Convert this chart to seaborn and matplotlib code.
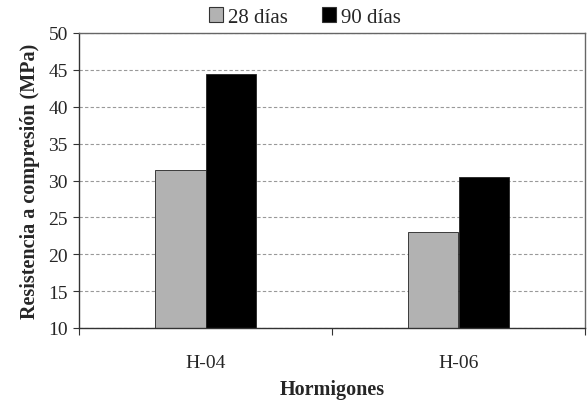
import matplotlib
matplotlib.use("Agg")
import matplotlib.pyplot as plt
import seaborn as sns
import pandas as pd
from matplotlib.patches import Patch

categories = ["H-04", "H-06"]
series_names = ["28 días", "90 días"]
vals_28 = [31.4, 23.0]
vals_90 = [44.4, 30.5]
yticks = [10, 15, 20, 25, 30, 35, 40, 45, 50]

rows = []
for c, a, b in zip(categories, vals_28, vals_90):
    rows.append({"Hormigon": c, "Edad": series_names[0], "MPa": a})
    rows.append({"Hormigon": c, "Edad": series_names[1], "MPa": b})
df = pd.DataFrame(rows)

sns.set_style("white")
plt.rcParams["font.family"] = ["Liberation Serif", "DejaVu Serif"]

colors = ["#b2b2b2", "#000000"]
fig = plt.figure(figsize=(5.87, 4.02), dpi=100)
ax = fig.add_axes([79/587, 1-329/402, (585-79)/587, (329-34)/402])

sns.barplot(data=df, x="Hormigon", y="MPa", hue="Edad", palette=colors,
            width=0.4, gap=0, edgecolor="#222222", linewidth=0.6,
            ax=ax, legend=False, saturation=1)

ax.set_ylim(10, 50)
ax.set_yticks(yticks)
ax.set_xlim(-0.5, 1.5)
ax.yaxis.grid(True, linestyle=(0, (3, 2)), color="#999999", linewidth=0.8)
ax.set_axisbelow(True)
for s in ["left", "bottom"]:
    ax.spines[s].set_color("#333333")
    ax.spines[s].set_linewidth(1.0)
for s in ["top", "right"]:
    ax.spines[s].set_color("#666666")
    ax.spines[s].set_linewidth(1.0)

ax.tick_params(axis="y", which="major", left=True, length=4, width=0.8,
               labelsize=14, pad=4, color="#333333")
ax.tick_params(axis="x", which="major", bottom=False, labelsize=14, pad=15)
ax.set_xticks([-0.5, 0.5, 1.5], minor=True)
ax.tick_params(axis="x", which="minor", bottom=True, length=5, width=0.8, color="#333333")

ax.set_xlabel("Hormigones", fontsize=14.5, fontweight="bold", labelpad=6)
ax.set_ylabel("Resistencia a compresión (MPa)", fontsize=14.5, fontweight="bold", labelpad=6)

handles = [Patch(facecolor=colors[0], edgecolor="#333333", linewidth=0.8),
           Patch(facecolor=colors[1], edgecolor="#333333", linewidth=0.8)]
fig.legend(handles, series_names, loc="center", bbox_to_anchor=(305/587, 1-18/402),
           ncol=2, frameon=False, fontsize=15, handlelength=0.7, handleheight=0.7,
           handletextpad=0.25, columnspacing=1.6)

fig.savefig("out.png", dpi=100)
